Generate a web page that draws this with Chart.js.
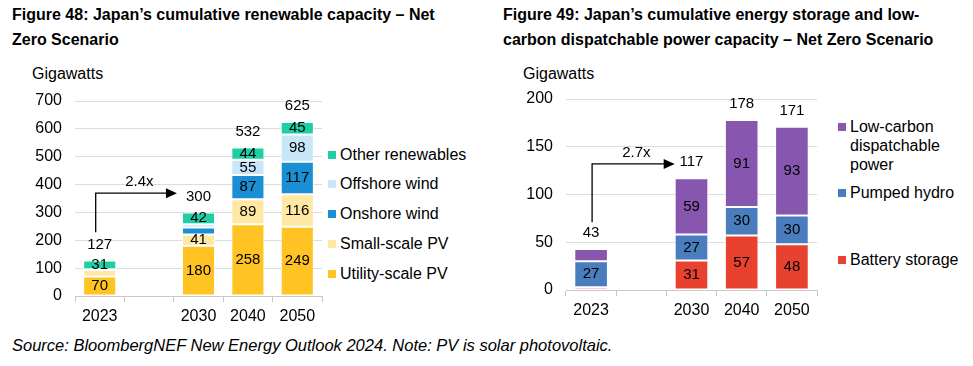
<!DOCTYPE html>
<html>
<head>
<meta charset="utf-8">
<script src="https://cdn.jsdelivr.net/npm/chart.js@4"></script>
<style>
  body { margin: 0; background: #fff; font-family: "Liberation Sans", Arial, sans-serif; color: #000; }
  #wrap { position: relative; width: 973px; height: 366px; overflow: hidden; }
  .title { position: absolute; font-weight: bold; font-size: 16px; line-height: 25px; }
  .unit { position: absolute; font-size: 16px; }
  .legend { position: absolute; font-size: 16px; }
  .legend div { position: absolute; white-space: nowrap; line-height: 19px; }
  .legend span { position: absolute; width: 8px; height: 8px; left: 0; top: 6px; }
  .legend b { font-weight: normal; position: absolute; left: 12px; top: 0; }
  .src { position: absolute; left: 12px; top: 336px; font-style: italic; font-size: 16.5px; }
  canvas { position: absolute; }
</style>
</head>
<body>
<div id="wrap">
  <div class="title" style="left:12px;top:2px;">Figure 48: Japan’s cumulative renewable capacity – Net<br>Zero Scenario</div>
  <div class="title" style="left:503px;top:2px;">Figure 49: Japan’s cumulative energy storage and low-<br>carbon dispatchable power capacity – Net Zero Scenario</div>
  <div class="unit" style="left:32px;top:65px;">Gigawatts</div>
  <div class="unit" style="left:523px;top:65px;">Gigawatts</div>
  <canvas id="left" width="325" height="272" style="left:0;top:60px;"></canvas>
  <canvas id="right" width="340" height="272" style="left:490px;top:60px;"></canvas>
  <div class="legend" id="legLeft" style="left:328px;top:0;"></div>
  <div class="legend" id="legRight" style="left:838px;top:0;"></div>
  <div class="src">Source: BloombergNEF New Energy Outlook 2024. Note: PV is solar photovoltaic.</div>
</div>
<script>
// categories (blank slot = gap between 2023 and 2030)
const years = ['2023', '', '2030', '2040', '2050'];

// Figure 48 - renewables, GW
const utilityPV = [70, null, 180, 258, 249];
const smallPV = [23, null, 41, 89, 116];
const onshoreWind = [3, null, 25, 87, 117];
const offshoreWind = [0, null, 12, 55, 98];
const otherRenewables = [31, null, 42, 44, 45];
const renewTotals = [127, null, 300, 532, 625];
const renewTicks = [0, 100, 200, 300, 400, 500, 600, 700];

// Figure 49 - storage and dispatchable, GW
const battery = [3, null, 31, 57, 48];
const pumpedHydro = [27, null, 27, 30, 30];
const lowCarbon = [13, null, 59, 91, 93];
const storageTotals = [43, null, 117, 178, 171];
const storageTicks = [0, 50, 100, 150, 200];

const FONT = '"Liberation Sans", Arial, sans-serif';

// write segment values, totals and the growth arrow
const labelPlugin = {
  id: 'labels',
  afterDatasetsDraw(chart, args, opts) {
    const ctx = chart.ctx;
    const y = chart.scales.y;
    ctx.save();
    ctx.font = '15px ' + FONT;
    ctx.fillStyle = '#000';
    ctx.textAlign = 'center';
    ctx.textBaseline = 'middle';
    chart.data.datasets.forEach((ds, di) => {
      const meta = chart.getDatasetMeta(di);
      meta.data.forEach((bar, i) => {
        const v = ds.data[i];
        if (v == null || v < opts.minLabel) return;
        ctx.fillText(v, bar.x, (bar.y + bar.base) / 2);
      });
    });
    const last = chart.getDatasetMeta(chart.data.datasets.length - 1);
    opts.totals.forEach((t, i) => {
      if (t == null) return;
      ctx.fillText(t, last.data[i].x, y.getPixelForValue(t) - 16);
    });
    // arrow
    const a = opts.arrow;
    const b0 = last.data[a.from], b1 = last.data[a.to];
    const x0 = b0.x + a.dx;
    const x1 = b1.x - b1.width / 2 - a.gap;
    const yLow = y.getPixelForValue(a.low);
    const yHigh = y.getPixelForValue(a.high);
    ctx.strokeStyle = '#000';
    ctx.lineWidth = 1.3;
    ctx.beginPath();
    ctx.moveTo(x0, yLow);
    ctx.lineTo(x0, yHigh);
    ctx.lineTo(x1 - 10, yHigh);
    ctx.stroke();
    ctx.beginPath();
    ctx.moveTo(x1, yHigh);
    ctx.lineTo(x1 - 11, yHigh - 5);
    ctx.lineTo(x1 - 11, yHigh + 5);
    ctx.closePath();
    ctx.fill();
    ctx.fillText(a.text, (x0 + x1) / 2 + 3, yHigh - 11);
    ctx.restore();
  }
};

function makeChart(id, datasets, ticks, yAxisWidth, xAxisHeight, padTop, padRight, labelOpts) {
  return new Chart(document.getElementById(id), {
    type: 'bar',
    data: { labels: years, datasets: datasets },
    plugins: [labelPlugin],
    options: {
      responsive: false,
      animation: false,
      layout: { padding: { top: padTop, right: padRight, left: 0, bottom: 0 } },
      datasets: { bar: { categoryPercentage: 1, barPercentage: 0.67, borderWidth: 1, borderColor: '#fff', borderSkipped: false } },
      scales: {
        x: {
          stacked: true,
          grid: { offset: true, drawOnChartArea: false, drawTicks: true, tickLength: 6, color: '#c8c8c8' },
          border: { display: true, color: '#c8c8c8' },
          ticks: { color: '#000', font: { size: 16, family: FONT }, padding: 5, autoSkip: false, maxRotation: 0 },
          afterFit(s) { s.height = xAxisHeight; }
        },
        y: {
          stacked: true,
          min: ticks[0],
          max: ticks[ticks.length - 1],
          afterBuildTicks(s) { s.ticks = ticks.map(v => ({ value: v })); },
          grid: { drawTicks: false, color: '#dcdcdc' },
          border: { display: false },
          ticks: { color: '#000', font: { size: 16, family: FONT }, padding: 13 },
          afterFit(s) { s.width = yAxisWidth; }
        }
      },
      plugins: {
        legend: { display: false },
        tooltip: { enabled: false },
        labels: labelOpts
      }
    }
  });
}

const renewSets = [
  { label: 'Utility-scale PV', data: utilityPV, backgroundColor: '#FFC423' },
  { label: 'Small-scale PV', data: smallPV, backgroundColor: '#FFE8A3' },
  { label: 'Onshore wind', data: onshoreWind, backgroundColor: '#1A8FD4' },
  { label: 'Offshore wind', data: offshoreWind, backgroundColor: '#C7E6F8' },
  { label: 'Other renewables', data: otherRenewables, backgroundColor: '#1ECFA6' }
];
const storageSets = [
  { label: 'Battery storage', data: battery, backgroundColor: '#E8412F' },
  { label: 'Pumped hydro', data: pumpedHydro, backgroundColor: '#4A7DBD' },
  { label: 'Low-carbon dispatchable power', data: lowCarbon, backgroundColor: '#8757B0' }
];

makeChart('left', renewSets, renewTicks, 75, 36, 41, 3, {
  minLabel: 30, totals: renewTotals,
  arrow: { from: 0, to: 2, low: 229, high: 369, dx: -4, gap: 5, text: '2.4x' }
});
makeChart('right', storageSets, storageTicks, 76, 42, 39, 13, {
  minLabel: 26, totals: storageTotals,
  arrow: { from: 0, to: 2, low: 71, high: 132, dx: 1, gap: 0, text: '2.7x' }
});

// legends as text, reversed like the stacks
function legend(el, sets, tops, names) {
  sets.forEach((ds, i) => {
    const d = document.createElement('div');
    d.style.top = tops[i] + 'px';
    d.innerHTML = '<span style="background:' + ds.backgroundColor + '"></span><b>' + names[i] + '</b>';
    el.appendChild(d);
  });
}
legend(document.getElementById('legLeft'), renewSets.slice().reverse(), [145, 174, 204, 234, 264],
  ['Other renewables', 'Offshore wind', 'Onshore wind', 'Small-scale PV', 'Utility-scale PV']);
legend(document.getElementById('legRight'), storageSets.slice().reverse(), [117, 183, 250],
  ['Low-carbon<br>dispatchable<br>power', 'Pumped hydro', 'Battery storage']);
</script>
</body>
</html>
